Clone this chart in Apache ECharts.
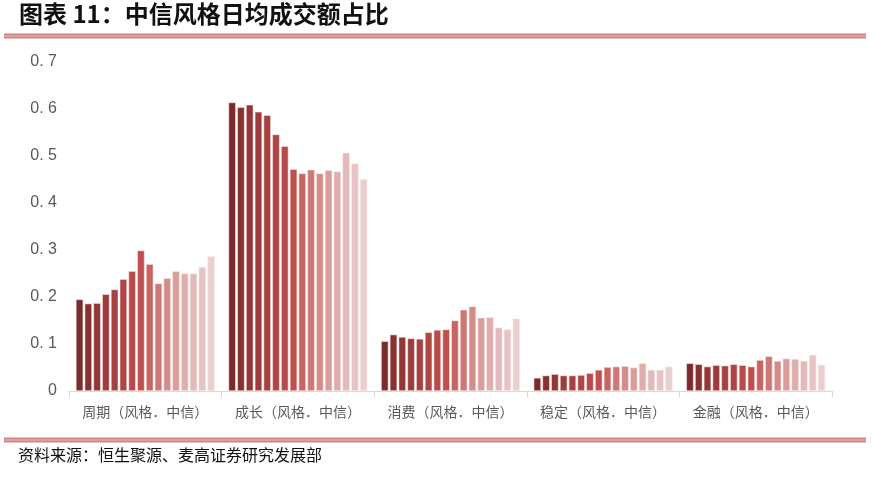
<!DOCTYPE html>
<html><head><meta charset="utf-8">
<script src="https://cdn.jsdelivr.net/npm/echarts@6/dist/echarts.min.js"></script>
<style>html,body{margin:0;padding:0;background:#fff}#c{width:872px;height:480px}</style>
</head><body><div id="c"></div>
<script>
const categories = ['周期（风格．中信）','成长（风格．中信）','消费（风格．中信）','稳定（风格．中信）','金融（风格．中信）'];
const s01 = [0.195,0.614,0.106,0.028,0.059];
const s02 = [0.186,0.604,0.120,0.033,0.057];
const s03 = [0.187,0.609,0.115,0.036,0.052];
const s04 = [0.206,0.594,0.112,0.033,0.055];
const s05 = [0.216,0.587,0.111,0.033,0.054];
const s06 = [0.238,0.546,0.125,0.034,0.057];
const s07 = [0.255,0.521,0.130,0.038,0.055];
const s08 = [0.299,0.472,0.131,0.045,0.052];
const s09 = [0.270,0.463,0.150,0.051,0.066];
const s10 = [0.229,0.471,0.173,0.052,0.074];
const s11 = [0.240,0.463,0.180,0.053,0.064];
const s12 = [0.255,0.470,0.156,0.050,0.069];
const s13 = [0.250,0.467,0.157,0.059,0.068];
const s14 = [0.250,0.507,0.135,0.045,0.064];
const s15 = [0.264,0.484,0.131,0.045,0.077];
const s16 = [0.287,0.451,0.154,0.052,0.056];
const seriesData = [s01,s02,s03,s04,s05,s06,s07,s08,s09,s10,s11,s12,s13,s14,s15,s16];
const yTicks = [0,0.1,0.2,0.3,0.4,0.5,0.6,0.7];
const colors = ['#7A2C2C','#873131','#923636','#9C3C3C','#A54141','#AE4646','#B74A4A','#C0504D',
                '#C76563','#CD7876','#D38C8A','#D99E9C','#DEADAC','#E2BAB9','#E6C4C3','#E9CFCE'];
const chart = echarts.init(document.getElementById('c'));
chart.setOption({
  animation:false,
  grid:{left:69,right:40,top:62,bottom:89},
  xAxis:{type:'category',data:categories,
    axisLine:{lineStyle:{color:'#D9D9D9'}},
    axisTick:{show:true,length:6,lineStyle:{color:'#D9D9D9'}},
    axisLabel:{interval:0,hideOverlap:false,color:'#595959',fontSize:14,margin:14,fontFamily:'Noto Sans CJK SC'}},
  yAxis:{type:'value',min:0,max:0.7,interval:0.1,
    axisLine:{show:false},axisTick:{show:false},splitLine:{show:false},
    axisLabel:{color:'#595959',fontSize:16,margin:12,fontFamily:'Liberation Sans',
      formatter:v=>{const t=yTicks.find(x=>Math.abs(x-v)<1e-9);return t===0?'0':t.toFixed(1).replace('.', '. ');}}},
  series:seriesData.map((d,i)=>({type:'bar',data:d,barGap:'19%',barCategoryGap:'9%',
    itemStyle:{color:colors[i],borderColor:'rgba(255,235,235,0.9)',borderWidth:0.6}})),
  graphic:[
    {type:'text',left:19,top:2,style:{text:'图表 11：中信风格日均成交额占比',fontSize:24,fontWeight:'bold',fill:'#111',fontFamily:'Noto Sans CJK SC'}},
    {type:'rect',shape:{x:4,y:33.5,width:862,height:5},style:{fill:'#CF8585'}},
    {type:'rect',shape:{x:4,y:35.5,width:862,height:1},style:{fill:'#E9BDBD'}},
    {type:'rect',shape:{x:4,y:437.5,width:862,height:5},style:{fill:'#CF8585'}},
    {type:'rect',shape:{x:4,y:439.5,width:862,height:1},style:{fill:'#E9BDBD'}},
    {type:'text',left:18,top:447,style:{text:'资料来源：恒生聚源、麦高证券研究发展部',fontSize:16,fill:'#111',fontFamily:'Noto Sans CJK SC'}}
  ]
});
</script></body></html>
